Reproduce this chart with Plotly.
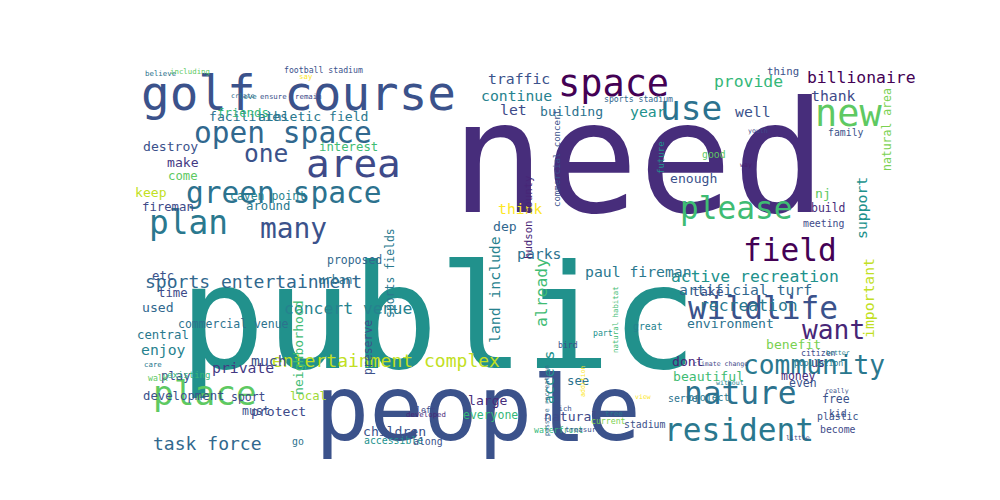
import plotly.graph_objects as go

# word cloud data: word, x, y (pixel-like coords), font size, colour, angle
words = ["public", "need", "people", "golf course", "space", "area", "open space", "one",
         "plan", "green space", "many", "use", "new", "please", "field", "wildlife", "want",
         "community", "nature", "resident", "place", "task force", "sports entertainment",
         "entertainment complex", "concert venue", "active recreation", "recreation",
         "artificial turf", "billionaire", "provide", "traffic", "continue", "let", "building",
         "year", "well", "thank", "facilities", "athletic field", "friends", "interest",
         "make", "come", "destroy", "fireman", "keep", "caven point", "think", "dep",
         "enough", "nj", "build", "meeting", "family", "good", "natural area", "support",
         "important", "around", "proposed", "urban", "parks", "paul fireman", "take",
         "environment", "etc", "time", "used", "central", "enjoy", "much", "commercial venue",
         "private", "sport", "play", "development", "local", "must", "protect", "children",
         "natural", "water", "see", "large", "everyone", "benefit", "dont", "beautiful",
         "money", "us", "even", "project", "free", "kid", "plastic", "serve", "accessible",
         "along", "go", "become", "land include", "access", "already", "sports fields",
         "hudson county", "neighborhood", "preserve", "commercial concert", "future",
         "waterfront", "great", "part", "citizen", "population", "bird", "left", "developed",
         "existing", "walk", "care", "believe", "including", "football stadium", "say",
         "remain", "ensure", "create", "love", "sports stadium", "youth", "way", "thing",
         "climate change", "stadium", "tree", "rich", "addition", "natural habitat", "current",
         "passive recreation", "view", "better", "really", "without", "little", "treasure"]
xs = [430, 630, 470, 290, 605, 345, 275, 258, 180, 275, 285, 683, 840, 728, 782, 755, 825,
      806, 732, 731, 197, 199, 245, 378, 340, 747, 740, 737, 853, 740, 511, 508, 505, 563,
      640, 745, 825, 240, 305, 235, 340, 175, 175, 162, 160, 143, 260, 512, 497, 685, 815,
      820, 815, 838, 706, 879, 853, 860, 260, 346, 327, 531, 630, 700, 722, 155, 165, 150,
      155, 155, 261, 225, 235, 240, 168, 175, 300, 248, 270, 386, 563, 560, 570, 480, 482,
      785, 680, 700, 790, 810, 795, 700, 828, 830, 830, 675, 385, 420, 290, 830, 486, 540,
      533, 382, 520, 290, 360, 549, 653, 550, 640, 595, 810, 810, 560, 418, 418, 180, 150,
      145, 152, 182, 315, 298, 300, 265, 235, 240, 630, 750, 738, 775, 712, 637, 606, 555,
      575, 607, 600, 539, 635, 830, 829, 722, 790, 575]
ys = [310, 150, 400, 85, 75, 155, 125, 145, 215, 185, 220, 100, 105, 200, 242, 300, 322,
      357, 385, 422, 385, 435, 273, 352, 300, 268, 297, 281, 69, 73, 70, 87, 101, 103, 103,
      103, 87, 108, 108, 105, 139, 154, 168, 138, 199, 184, 188, 200, 218, 170, 185, 200, 215,
      124, 146, 122, 200, 290, 198, 252, 272, 245, 263, 283, 315, 268, 285, 299, 327, 341,
      352, 316, 359, 389, 368, 388, 388, 403, 403, 423, 408, 352, 373, 392, 407, 336, 353,
      368, 368, 355, 375, 389, 391, 405, 408, 390, 432, 433, 433, 421, 282, 370, 285, 265,
      210, 340, 340, 150, 150, 422, 318, 325, 345, 355, 337, 402, 406, 367, 370, 356, 65, 63,
      62, 68, 88, 88, 88, 88, 91, 123, 157, 63, 356, 416, 405, 400, 373, 312, 413, 393, 389,
      345, 383, 375, 430, 421]
sizes = [175, 190, 110, 58, 45, 48, 36, 30, 40, 36, 34, 42, 45, 38, 38, 38, 32, 32, 38, 38,
         42, 22, 22, 22, 20, 20, 20, 18, 20, 20, 18, 18, 18, 16, 18, 18, 18, 16, 16, 15, 15,
         16, 15, 16, 15, 16, 14, 18, 16, 16, 16, 14, 12, 12, 12, 14, 18, 18, 15, 14, 14, 18,
         18, 16, 16, 15, 15, 16, 15, 18, 18, 14, 18, 14, 15, 15, 15, 14, 16, 16, 16, 18, 15,
         16, 14, 16, 16, 16, 14, 14, 14, 12, 14, 12, 12, 12, 12, 12, 12, 12, 18, 18, 20, 14,
         13, 16, 14, 11, 11, 10, 12, 10, 10, 10, 10, 10, 9, 11, 10, 9, 9, 9, 10, 9, 9, 9, 8,
         9, 10, 8, 8, 13, 8, 12, 9, 9, 8, 9, 10, 8, 8, 8, 8, 8, 8, 9, 8, 8]
colors = ["#21918c", "#472d7b", "#3b528b", "#3b528b", "#440154", "#3e4a89", "#31688e",
          "#3b528b", "#2a788e", "#2c728e", "#3b528b", "#2c728e", "#5ec962", "#3fbc73",
          "#440154", "#3b528b", "#482677", "#2a788e", "#2c728e", "#2a788e", "#5ec962",
          "#31688e", "#31688e", "#c2df23", "#26828e", "#21918c", "#2a788e", "#31688e",
          "#440154", "#35b779", "#3b528b", "#26828e", "#3e4a89", "#2c728e", "#21918c",
          "#3b528b", "#3e4a89", "#2c728e", "#2a788e", "#35b779", "#3fbc73", "#443983",
          "#5ec962", "#3b528b", "#3e4a89", "#c2df23", "#26828e", "#fde725", "#31688e",
          "#3b528b", "#5ec962", "#472d7b", "#3e4a89", "#3b528b", "#5ec962", "#7ad151",
          "#21918c", "#c2df23", "#2a788e", "#31688e", "#2c728e", "#2c728e", "#2a788e",
          "#3b528b", "#2c728e", "#3b528b", "#3e4a89", "#31688e", "#2a788e", "#26828e",
          "#3b528b", "#2c728e", "#443983", "#3e4a89", "#3b528b", "#3b528b", "#a0da39",
          "#3b528b", "#3e4a89", "#3b528b", "#3e4a89", "#21918c", "#2c728e", "#472d7b",
          "#35b779", "#7ad151", "#482677", "#3fbc73", "#472d7b", "#482677", "#3b528b",
          "#2a788e", "#3b528b", "#3b528b", "#3b528b", "#2c728e", "#21918c", "#3b528b",
          "#2c728e", "#3e4a89", "#26828e", "#21918c", "#3fbc73", "#2a788e", "#482677",
          "#3fbc73", "#3b528b", "#3b528b", "#21918c", "#35b779", "#26828e", "#21918c",
          "#3e4a89", "#2a788e", "#3b528b", "#3e4a89", "#482677", "#35b779", "#5ec962",
          "#2a788e", "#2c728e", "#5ec962", "#3b528b", "#fde725", "#3e4a89", "#3b528b",
          "#31688e", "#2a788e", "#31688e", "#3e4a89", "#481f70", "#3b528b", "#3e4a89",
          "#3b528b", "#2a788e", "#3b528b", "#fde725", "#3fbc73", "#7ad151", "#31688e",
          "#fde725", "#26828e", "#3b528b", "#26828e", "#3e4a89", "#3b528b", "#fde725"]
angles = [0] * len(words)
vertical = ["land include", "access", "already", "sports fields", "hudson county",
            "neighborhood", "preserve", "commercial concert", "future", "natural area",
            "support", "important", "addition", "natural habitat", "passive recreation"]
for i, w in enumerate(words):
    if w in vertical:
        angles[i] = -90

fig = go.Figure()
fig.add_trace(go.Scatter(x=[0, 1000], y=[0, 500], mode="markers",
                         marker=dict(opacity=0), hoverinfo="skip", showlegend=False))
for w, x, y, s, c, a in zip(words, xs, ys, sizes, colors, angles):
    fig.add_annotation(x=x, y=y, text=w, showarrow=False, textangle=a,
                       font=dict(family="DejaVu Sans Mono", size=s * 0.82, color=c))

fig.update_layout(width=1000, height=500, margin=dict(l=0, r=0, t=0, b=0),
                  plot_bgcolor="white", paper_bgcolor="white",
                  xaxis=dict(range=[0, 1000], visible=False),
                  yaxis=dict(range=[500, 0], visible=False))
fig.write_html("out.html")
